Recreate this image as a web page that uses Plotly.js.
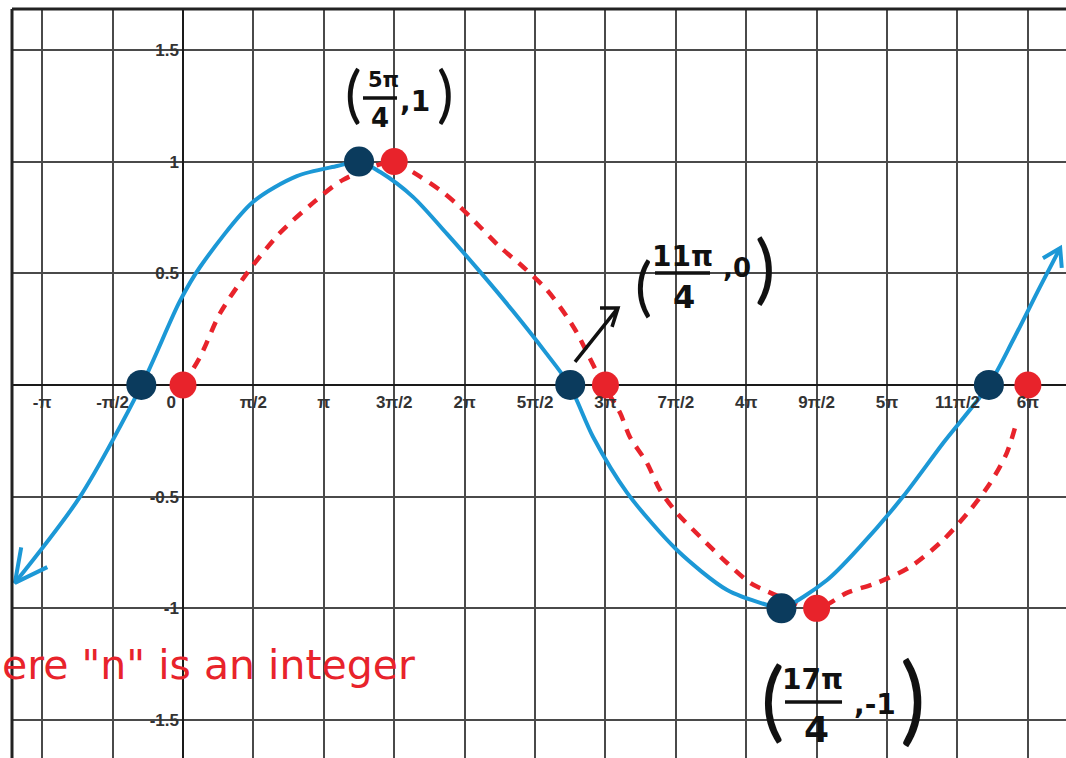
<!DOCTYPE html>
<html>
<head>
<meta charset="utf-8">
<script src="https://cdn.plot.ly/plotly-3.0.1.min.js"></script>
<style>
  html, body { margin: 0; padding: 0; background: #ffffff; }
  #chart { width: 1066px; height: 758px; }
</style>
</head>
<body>
<div id="chart"></div>
<script>
// Shifted sine y = sin((x + π/4)/3), hand-traced (solid blue)
const blueX = [-3.75, -2.30, -0.92, -0.07, 0.38, 1.56, 2.54, 3.44, 3.93, 4.40, 5.13, 5.89, 6.63, 7.36, 8.08,
               8.62, 9.15, 9.91, 11.02, 12.14, 13.03, 13.35, 14.37, 15.10, 16.06, 16.96, 17.98, 18.52, 19.12, 19.57];
const blueY = [-0.886, -0.501, 0.0, 0.375, 0.528, 0.819, 0.935, 0.980, 1.0, 0.953, 0.842, 0.676, 0.506, 0.331, 0.148,
               0.0, -0.233, -0.483, -0.739, -0.918, -0.985, -1.0, -0.873, -0.725, -0.501, -0.260, 0.0, 0.201, 0.439, 0.613];

// Parent sine y = sin(x/3), hand-traced (dashed red)
const redX = [0, 0.38, 0.83, 1.43, 2.16, 2.90, 3.57, 4.71, 5.13, 5.73, 6.18, 6.63, 7.07, 7.59, 8.12, 8.57, 8.79,
              9.38, 9.75, 9.97, 10.35, 10.64, 11.02, 11.54, 12.14, 12.65, 12.87, 14.14, 14.81, 15.48, 16.22, 16.96,
              17.56, 18.01, 18.38, 18.61];
const redY = [0, 0.125, 0.322, 0.501, 0.680, 0.815, 0.918, 1.0, 0.953, 0.873, 0.797, 0.707, 0.618, 0.528, 0.425, 0.304, 0.233,
              0.0, -0.125, -0.233, -0.349, -0.470, -0.573, -0.680, -0.797, -0.886, -0.909, -1.0, -0.931, -0.886, -0.815, -0.694,
              -0.560, -0.439, -0.304, -0.157];

// Key points
const PI = Math.PI;
const blueDotX = [-0.93, 5 * PI / 4, 11 * PI / 4, 17 * PI / 4, 17.98];
const blueDotY = [0, 1, 0, -1, 0];
const redDotX = [0, 3 * PI / 2, 3 * PI, 9 * PI / 2, 6 * PI];
const redDotY = [0, 1, 0, -1, 0];

// Axis ticks
const xTickVals = [-PI, -PI / 2, 0, PI / 2, PI, 3 * PI / 2, 2 * PI, 5 * PI / 2, 3 * PI, 7 * PI / 2, 4 * PI, 9 * PI / 2, 5 * PI, 11 * PI / 2, 6 * PI];
const xTickText = ['-π', '-π/2', '0', 'π/2', 'π', '3π/2', '2π', '5π/2', '3π', '7π/2', '4π', '9π/2', '5π', '11π/2', '6π'];
const yTickVals = [-1.5, -1, -0.5, 0.5, 1, 1.5];
const yTickText = ['-1.5', '-1', '-0.5', '0.5', '1', '1.5'];

// ---- layout geometry ----
const W = 1066, H = 758;
const M = { l: 12, r: 0, t: 9, b: 0 };
const X_RANGE = [-3.815, 19.70];
const Y_RANGE = [-1.670, 1.683];
const plotW = W - M.l - M.r, plotH = H - M.t - M.b;
const pxPerX = plotW / (X_RANGE[1] - X_RANGE[0]);
const pxPerY = plotH / (Y_RANGE[1] - Y_RANGE[0]);
const yAxisPos = (0 - X_RANGE[0]) / (X_RANGE[1] - X_RANGE[0]);
const xAxisPos = (0 - Y_RANGE[0]) / (Y_RANGE[1] - Y_RANGE[0]);

// open "V" arrowhead at the end of a curve, pointing from `from` toward `tip`
function arrowBarbs(tipX, tipY, fromX, fromY, lenPx, angDeg) {
  const dx = (fromX - tipX) * pxPerX, dy = (fromY - tipY) * pxPerY;
  const base = Math.atan2(dy, dx);
  const a = angDeg * Math.PI / 180;
  const pts = [base + a, base - a].map(t => [tipX + Math.cos(t) * lenPx / pxPerX, tipY + Math.sin(t) * lenPx / pxPerY]);
  return { x: [pts[0][0], tipX, pts[1][0]], y: [pts[0][1], tipY, pts[1][1]] };
}
const nB = blueX.length;
const leftHead = arrowBarbs(blueX[0], blueY[0], blueX[1], blueY[1], 36, 27);
const rightHead = arrowBarbs(blueX[nB - 1], blueY[nB - 1], blueX[nB - 2], blueY[nB - 2], 20, 32);

const BLUE = '#1c98d6';
const RED = '#e8232b';
const NAVY = '#0b3b5d';

// the origin label sits just left of the vertical axis
const xTickTextShown = xTickText.map((t, i) => xTickVals[i] === 0 ? t + '\u00a0\u00a0\u00a0\u00a0\u00a0' : t);

const traces = [
  { x: redX, y: redY, mode: 'lines', line: { color: RED, width: 4.5, dash: '11px,9px', shape: 'spline', smoothing: 0.8 }, hoverinfo: 'skip' },
  { x: blueX, y: blueY, mode: 'lines', line: { color: BLUE, width: 4, shape: 'spline', smoothing: 0.8 }, hoverinfo: 'skip' },
  { x: leftHead.x, y: leftHead.y, mode: 'lines', line: { color: BLUE, width: 4 }, hoverinfo: 'skip' },
  { x: rightHead.x, y: rightHead.y, mode: 'lines', line: { color: BLUE, width: 4 }, hoverinfo: 'skip' },
  { x: redDotX, y: redDotY, mode: 'markers', marker: { color: RED, size: 27 }, cliponaxis: false, hoverinfo: 'skip' },
  { x: blueDotX, y: blueDotY, mode: 'markers', marker: { color: NAVY, size: 30 }, cliponaxis: false, hoverinfo: 'skip' }
];

const tickFont = { family: 'Liberation Sans, Arial, sans-serif', size: 17, color: '#333333', weight: 700 };
const hand = { family: 'DejaVu Sans, sans-serif', color: '#111111' };
const paren = { family: 'Lato, sans-serif', color: '#111111', weight: 400 };

function txt(x, y, text, size, bold) {
  return {
    x: x, y: y, xref: 'x', yref: 'y', text: text, showarrow: false,
    xanchor: 'center', yanchor: 'middle', borderpad: 0,
    font: Object.assign({}, hand, { size: size, weight: bold ? 700 : 400 })
  };
}
function par(x, y, text, size) {
  return {
    x: x, y: y, xref: 'x', yref: 'y', text: text, showarrow: false,
    xanchor: 'center', yanchor: 'middle', borderpad: 0,
    font: Object.assign({}, paren, { size: size })
  };
}

const annotations = [
  // (5π/4, 1)
  par(3.793, 1.312, '(', 62),
  txt(4.462, 1.365, '5π', 21, true),
  txt(4.395, 1.195, '4', 26, true),
  txt(5.176, 1.271, ',1', 28, true),
  par(5.846, 1.312, ')', 62),
  // (11π/4, 0)
  par(10.263, 0.448, '(', 64),
  txt(11.133, 0.573, '11π', 28, true),
  txt(11.178, 0.394, '4', 32, true),
  txt(12.361, 0.524, ',0', 26, true),
  par(12.985, 0.533, ')', 76),
  // (17π/4, -1)
  par(13.164, -1.397, '(', 88),
  txt(14.034, -1.320, '17π', 28, true),
  txt(14.123, -1.544, '4', 36, true),
  txt(15.44, -1.432, ',-1', 28, true),
  par(16.287, -1.392, ')', 96),
  // note in red
  {
    x: -0.0114, y: -1.253, xref: 'paper', yref: 'y', text: 'ere "n" is an integer', showarrow: false,
    xanchor: 'left', yanchor: 'middle',
    font: { family: 'DejaVu Sans, sans-serif', size: 41, color: RED }
  }
];

const ink = { color: '#111111', width: 3.5 };
const shapes = [
  // frame on the top and left edges
  { type: 'line', xref: 'paper', yref: 'paper', x0: 0, x1: 1, y0: 1, y1: 1, line: { color: '#222222', width: 3 } },
  { type: 'line', xref: 'paper', yref: 'paper', x0: 0, x1: 0, y0: 0, y1: 1, line: { color: '#222222', width: 3 } },
  // fraction bars
  { type: 'line', xref: 'x', yref: 'y', x0: 4.016, x1: 4.775, y0: 1.285, y1: 1.285, line: ink },
  { type: 'line', xref: 'x', yref: 'y', x0: 10.531, x1: 11.758, y0: 0.501, y1: 0.501, line: ink },
  { type: 'line', xref: 'x', yref: 'y', x0: 13.431, x1: 14.703, y0: -1.419, y1: -1.419, line: ink },
  // pointer toward (11π/4, 0)
  { type: 'path', xref: 'x', yref: 'y', path: 'M 8.746,0.103 L 9.705,0.345 M 9.304,0.345 L 9.705,0.345 L 9.572,0.260', line: { color: '#111111', width: 3.5 } }
];

const layout = {
  width: W, height: H,
  margin: M,
  paper_bgcolor: '#ffffff', plot_bgcolor: '#ffffff',
  showlegend: false,
  hovermode: false,
  xaxis: {
    range: X_RANGE, tickvals: xTickVals, ticktext: xTickTextShown,
    showgrid: true, gridcolor: '#4a4a4a', gridwidth: 2,
    zeroline: true, zerolinecolor: '#1a1a1a', zerolinewidth: 2.5,
    showline: false, ticks: '', anchor: 'free', position: xAxisPos,
    tickfont: tickFont, ticklabelstandoff: 5, fixedrange: true
  },
  yaxis: {
    range: Y_RANGE, tickvals: yTickVals, ticktext: yTickText,
    showgrid: true, gridcolor: '#4a4a4a', gridwidth: 2,
    zeroline: true, zerolinecolor: '#1a1a1a', zerolinewidth: 2.5,
    showline: false, ticks: '', anchor: 'free', position: yAxisPos,
    tickfont: tickFont, ticklabelstandoff: 4, fixedrange: true
  },
  annotations: annotations,
  shapes: shapes
};

Plotly.newPlot('chart', traces, layout, { displayModeBar: false, staticPlot: true });
</script>
</body>
</html>
